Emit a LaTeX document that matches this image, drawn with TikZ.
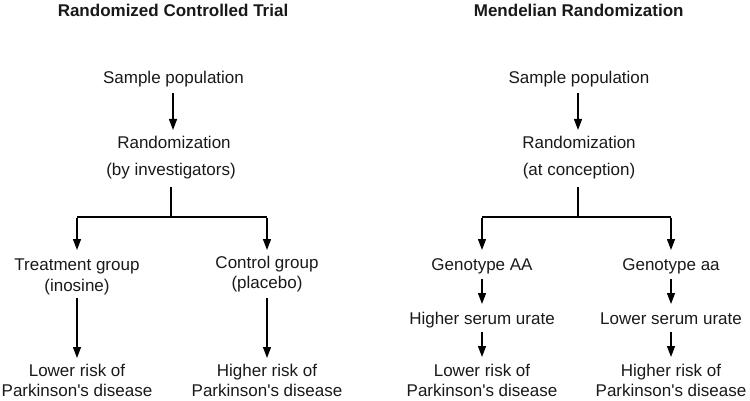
\documentclass[tikz,border=0pt]{standalone}
\usepackage{fontspec}
\setmainfont{Liberation Sans}
\usetikzlibrary{arrows.meta}
\newcommand{\apos}{\textquotesingle}
\begin{document}
\begin{tikzpicture}[x=1pt,y=-1pt,
  lbl/.style={anchor=base,inner sep=0pt,font=\fontsize{17}{20}\selectfont,text=black!90},
  ttl/.style={lbl,font=\fontsize{17}{20}\selectfont\bfseries},
  conn/.style={line width=1.3pt,-{Triangle[length=11pt,width=8pt]}},
  plain/.style={line width=1.3pt}]
\useasboundingbox (0,0) rectangle (750,401);
% left
\node[ttl] (t1) at (173,16.7) {Randomized Controlled Trial};
\node[lbl] (s1) at (173.5,83.5) {Sample population};
\node[lbl] (r1) at (174,149) {Randomization};
\node[lbl] (r1b) at (171,175.5) {(by investigators)};
\node[lbl] (tg) at (77,270.5) {Treatment group};
\node[lbl] (tgb) at (77,291) {(inosine)};
\node[lbl] (cg) at (267,268.5) {Control group};
\node[lbl] (cgb) at (267,288.5) {(placebo)};
\node[lbl] (l1) at (77,376) {Lower risk of};
\node[lbl] (l1b) at (77,396.5) {Parkinson\apos s disease};
\node[lbl] (h1) at (267,376) {Higher risk of};
\node[lbl] (h1b) at (267,396.5) {Parkinson\apos s disease};
\coordinate (j1) at (171,217);
\coordinate (ja) at (77,217);
\coordinate (jb) at (267,217);
\draw[conn] (173,93) -- (173,130);
\draw[plain] (171,187) -- (j1);
\draw[plain] (ja) -- (jb);
\draw[conn] ([yshift=-0.65pt]ja) -- (77,250);
\draw[conn] ([yshift=-0.65pt]jb) -- (267,250);
\draw[conn] (77,298) -- (77,358);
\draw[conn] (267,298) -- (267,358);
% right
\node[ttl] (t2) at (578.7,16.7) {Mendelian Randomization};
\node[lbl] (s2) at (579,83.5) {Sample population};
\node[lbl] (r2) at (579,149) {Randomization};
\node[lbl] (r2b) at (579,175.5) {(at conception)};
\node[lbl] (gA) at (482,270.5) {Genotype AA};
\node[lbl] (ga) at (671,270.5) {Genotype aa};
\node[lbl] (hs) at (482,324) {Higher serum urate};
\node[lbl] (ls) at (671,324) {Lower serum urate};
\node[lbl] (l2) at (482,376) {Lower risk of};
\node[lbl] (l2b) at (482,396.5) {Parkinson\apos s disease};
\node[lbl] (h2) at (671,376) {Higher risk of};
\node[lbl] (h2b) at (671,396.5) {Parkinson\apos s disease};
\coordinate (j2) at (578,217);
\coordinate (jc) at (482,217);
\coordinate (jd) at (671,217);
\draw[conn] (578,93) -- (578,130);
\draw[plain] (578,187) -- (j2);
\draw[plain] (jc) -- (jd);
\draw[conn] ([yshift=-0.65pt]jc) -- (482,250);
\draw[conn] ([yshift=-0.65pt]jd) -- (671,250);
\draw[conn] (482,279) -- (482,304);
\draw[conn] (671,279) -- (671,304);
\draw[conn] (482,332) -- (482,357);
\draw[conn] (671,332) -- (671,357);
\end{tikzpicture}
\end{document}
